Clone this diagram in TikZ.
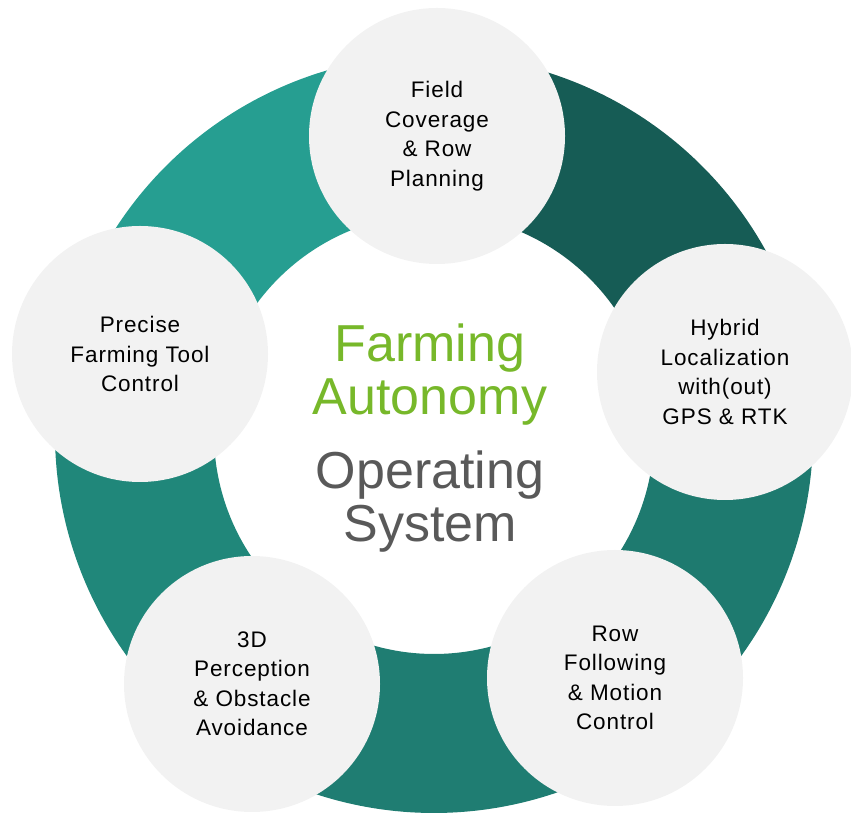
\documentclass[tikz,border=0pt]{standalone}
\usepackage{fontspec}
\setsansfont{Liberation Sans}
\usepackage{xcolor}
\definecolor{ringlight}{HTML}{269E91}
\definecolor{ringdark}{HTML}{165C55}
\definecolor{ringmid}{HTML}{1E7A6F}
\definecolor{ringlow}{HTML}{1F7D72}
\definecolor{ringleft}{HTML}{20877A}
\definecolor{stagegray}{HTML}{F2F2F2}
\definecolor{leafgreen}{HTML}{77B82A}
\definecolor{slate}{HTML}{595959}
\tikzset{
  stage/.style={circle, fill=stagegray, minimum size=256pt, inner sep=0pt,
    align=center, text=black,
    font=\sffamily\fontsize{22.5}{29.5}\selectfont\addfontfeature{LetterSpace=4}},
  hubtext/.style={align=center, font=\sffamily\fontsize{52}{53.5}\selectfont},
  every node/.append style={font=\sffamily}
}

\begin{document}
\begin{tikzpicture}[x=1pt, y=1pt]
\useasboundingbox (0,0) rectangle (851,816);
% ring, one shade per sector
\begin{scope}[shift={(434,382)}]
  \foreach \a/\b/\col in {12/89.4/ringdark, 89.4/164.8/ringlight, 164.8/234/ringleft,
                          234/306.6/ringlow, -53.4/12/ringmid}
    \fill[\col] (\a:379pt) arc[start angle=\a, end angle=\b, radius=379pt]
      -- (\b:220pt) arc[start angle=\b, end angle=\a, radius=220pt] -- cycle;
\end{scope}
% stages
\node[stage] (plan) at (437,680) {Field\\Coverage\\\& Row\\Planning};
\node[stage] (loc) at (725,444) {Hybrid\\Localization\\with(out)\\GPS \& RTK};
\node[stage] (follow) at (615,138) {Row\\Following\\\& Motion\\Control};
\node[stage] (percep) at (252,132) {3D\\Perception\\\& Obstacle\\Avoidance};
\node[stage] (tool) at (140,462) {Precise\\Farming Tool\\Control};
% title in the middle
\node[hubtext] (hub) at (430,378)
  {\textcolor{leafgreen}{Farming}\\\textcolor{leafgreen}{Autonomy}\\[20pt]
   \textcolor{slate}{Operating}\\\textcolor{slate}{System}};
\end{tikzpicture}
\end{document}
